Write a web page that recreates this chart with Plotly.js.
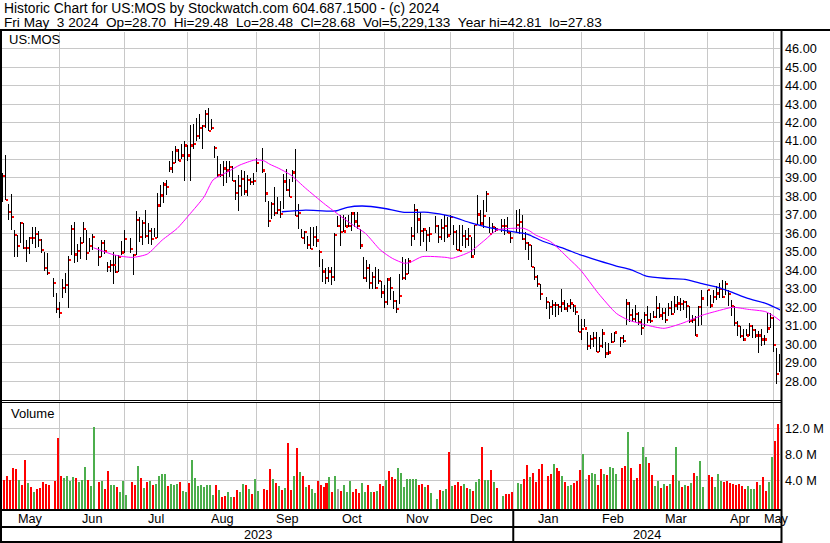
<!DOCTYPE html>
<html>
<head>
<meta charset="utf-8">
<script src="https://cdn.plot.ly/plotly-3.0.1.min.js"></script>
<style>
  html, body { margin:0; padding:0; background:#ffffff; overflow:hidden; }
  #chart { width:830px; height:543px; }
  #chart .barlayer path { shape-rendering: crispEdges; }
</style>
</head>
<body>
<div id="chart"></div>
<script>
// ---------------- data ----------------
const ticker = 'US:MOS';
const firstDay = '2023-05-03';
const lastDay  = '2024-05-03';
const holidays = ['2023-05-29','2023-06-19','2023-07-04','2023-09-04','2023-11-23',
                  '2023-12-25','2024-01-01','2024-01-15','2024-02-19','2024-03-29'];

const high = [
 38.90,39.20,39.25,40.24,37.59,38.13,36.18,35.91,36.63,36.58,35.64,35.82,36.32,36.32,36.13,35.71,35.01,34.95,33.56,32.75,
 32.30,33.51,33.87,34.77,36.45,36.63,35.42,35.82,36.63,36.18,35.73,35.96,35.24,35.64,35.64,34.47,34.56,35.00,34.83,34.83,35.56,
 36.18,35.73,34.91,37.22,36.91,36.73,37.27,36.55,36.31,36.31,38.16,38.64,38.78,38.91,39.91,40.45,40.73,40.55,40.82,41.00,
 40.78,41.85,41.91,42.24,42.45,41.85,42.67,42.81,42.18,40.73,40.18,39.73,39.91,39.91,39.91,39.64,38.91,39.18,39.45,39.36,39.18,39.00,39.27,
 40.10,40.60,39.26,37.77,37.68,38.49,37.95,37.77,39.20,39.47,38.94,39.42,40.55,37.59,36.24,36.15,35.88,36.33,36.33,36.42,
 35.08,34.63,34.12,34.18,34.18,36.00,36.96,37.00,37.00,36.87,37.00,37.18,37.18,37.14,36.24,34.72,34.54,34.36,33.91,34.18,34.09,33.40,
 33.20,33.60,33.65,32.90,32.40,33.80,34.73,34.60,34.66,36.36,37.61,37.34,37.16,36.27,36.18,36.36,36.95,36.45,36.80,37.02,36.89,
 36.98,36.45,36.18,36.48,36.45,36.18,36.27,35.82,36.48,38.05,37.25,37.79,38.32,36.89,36.54,36.36,36.80,36.80,36.89,36.09,
 37.25,37.30,36.97,36.07,35.53,35.35,34.18,33.73,33.28,32.56,32.29,32.38,32.29,32.20,33.00,32.38,32.25,32.47,32.20,32.10,31.57,
 31.39,31.35,30.67,30.49,30.67,30.67,30.40,30.81,30.13,30.04,30.58,30.67,30.40,30.49,32.47,32.29,31.93,32.11,31.75,31.39,
 31.75,32.05,31.70,31.80,32.60,32.23,31.96,31.96,32.23,32.32,32.60,32.60,32.50,32.41,32.32,32.05,31.60,31.51,32.05,32.95,
 32.95,32.68,32.95,33.13,33.31,33.50,33.40,32.95,32.41,32.05,31.24,30.97,30.80,30.80,31.15,31.06,30.80,30.70,30.80,30.52,31.70,31.70,
 31.50,29.80,29.48
];
const low = [
 37.60,37.90,37.68,37.80,36.72,36.18,34.70,34.74,35.49,35.17,34.47,34.88,35.42,35.22,35.24,34.92,33.98,33.74,32.57,31.70,
 31.43,32.48,32.79,31.97,34.83,34.41,34.47,34.61,35.46,34.56,34.99,35.10,34.23,34.70,34.86,33.92,33.92,33.26,33.87,33.92,34.83,
 34.92,34.96,33.73,34.82,35.55,35.36,35.73,35.45,35.36,35.82,35.73,37.45,37.62,38.09,39.33,39.27,39.82,39.91,40.00,38.82,
 39.91,38.85,40.55,41.00,41.09,40.55,41.73,41.55,41.58,40.09,39.04,39.04,38.55,38.70,39.04,38.82,37.82,37.22,38.00,38.09,38.00,38.64,38.64,
 39.31,39.26,37.68,36.33,36.78,36.96,37.05,36.82,37.32,38.31,37.95,38.76,36.96,36.24,35.74,35.43,35.16,35.16,35.34,35.25,
 34.18,33.37,33.28,33.37,33.19,33.40,36.33,35.34,36.06,36.33,36.33,36.15,36.33,36.24,35.16,33.55,33.37,33.01,32.97,33.01,33.28,32.50,
 31.95,32.10,32.40,31.90,31.70,32.20,33.47,33.50,33.80,35.34,35.64,36.00,35.29,35.55,35.05,35.55,36.00,35.46,35.64,35.55,35.77,
 35.91,35.38,35.11,35.02,35.29,35.20,35.29,34.66,34.84,36.45,36.45,36.27,37.16,36.00,36.00,36.09,36.09,35.91,36.00,35.46,
 36.00,35.98,35.62,35.08,34.54,34.18,33.46,33.10,32.38,31.93,31.38,31.57,31.48,31.60,31.75,31.84,31.75,31.90,31.75,31.57,30.67,
 30.22,30.94,29.68,29.76,29.86,29.59,29.59,29.77,29.23,29.41,30.04,30.13,29.86,30.04,31.03,31.21,31.21,31.21,31.03,30.49,
 30.94,31.15,31.15,31.42,31.42,31.42,31.33,31.15,31.51,31.60,31.69,31.87,31.78,31.87,31.42,31.15,31.15,30.47,30.97,31.06,
 32.05,31.96,32.23,32.41,32.50,32.50,32.68,32.05,31.51,30.97,30.43,30.34,30.20,30.43,30.43,30.34,30.34,29.53,29.90,29.98,30.60,30.90,
 29.60,27.83,28.48
];
const close = [
 38.20,38.60,39.12,37.80,37.17,36.90,35.93,35.31,36.58,35.22,35.22,35.76,35.76,35.95,35.66,35.10,34.14,33.87,33.33,31.92,
 31.70,33.06,33.20,34.56,36.23,34.86,35.04,35.49,36.23,34.92,35.32,35.80,34.74,35.47,35.06,34.18,34.27,34.30,33.90,34.74,34.96,
 35.70,35.15,34.82,36.73,35.80,36.58,35.87,36.13,35.69,35.76,37.51,38.05,38.64,38.53,39.51,39.82,40.49,39.95,40.22,40.76,
 40.22,40.76,40.84,41.25,41.69,41.80,42.45,41.53,41.69,40.60,39.18,39.18,39.51,39.40,39.58,38.85,38.18,38.55,38.96,38.27,38.91,38.80,38.85,
 39.83,39.40,38.16,36.66,37.60,37.09,37.28,37.05,38.81,38.34,37.98,39.29,36.96,37.10,35.74,36.06,35.38,35.16,35.79,35.61,
 34.99,33.94,33.59,33.94,33.64,35.92,36.42,36.06,36.10,36.37,36.39,37.07,36.64,36.39,35.34,33.59,34.12,33.32,33.64,33.05,33.41,32.80,
 32.30,33.50,33.05,32.36,31.90,32.60,33.60,33.80,34.48,35.86,37.27,36.75,36.12,36.21,35.91,35.98,36.39,35.82,36.27,36.41,35.88,
 36.88,36.09,35.11,35.05,35.86,35.68,35.86,34.75,36.45,37.02,36.54,36.95,38.13,35.98,36.32,36.21,36.41,36.41,36.05,35.77,
 36.45,36.61,35.71,35.48,35.35,34.18,33.64,33.28,32.70,32.29,32.02,32.11,32.11,32.00,32.20,31.93,32.06,32.20,32.05,31.75,30.67,
 30.81,30.85,29.91,30.27,30.34,29.59,29.91,30.58,29.50,29.55,30.13,30.63,30.34,30.18,32.20,31.57,31.35,31.62,31.21,30.88,
 31.57,31.30,31.24,31.46,31.96,31.55,31.68,31.33,31.95,31.64,32.10,32.20,32.16,32.27,32.05,31.24,31.33,30.47,32.00,32.47,
 32.92,32.10,32.54,32.74,32.99,32.54,33.28,32.70,32.05,31.15,30.97,30.43,30.25,30.47,30.97,30.76,30.47,30.47,30.25,30.25,30.85,31.42,
 29.95,28.40,28.68
];
// volume in millions of shares
const volumeM = [
 3.50,3.38,4.05,4.67,4.05,5.90,5.74,4.05,3.28,7.13,3.59,2.97,2.20,2.67,2.77,3.74,3.44,3.28,3.90,10.56,
 4.67,4.36,4.67,3.90,4.51,4.36,3.74,4.05,6.05,4.05,3.13,12.20,3.74,3.90,2.67,5.44,3.28,3.28,2.97,2.20,3.90,
 1.74,3.74,3.28,6.20,4.36,2.82,3.74,3.90,3.28,3.44,4.67,4.97,4.97,3.13,3.44,3.28,3.44,3.74,2.36,2.20,
 3.59,7.13,4.36,3.13,3.28,2.97,3.28,3.28,1.74,3.28,2.51,1.44,1.59,2.20,1.44,1.44,2.51,2.20,3.44,3.28,2.67,1.90,4.20,
 2.36,2.67,2.51,5.74,4.20,3.59,3.13,2.51,2.82,9.74,2.51,4.67,8.97,5.28,4.67,2.97,3.28,2.67,2.05,3.90,
 3.28,2.97,3.59,4.51,2.20,4.67,2.67,2.36,3.28,2.20,3.90,2.20,2.67,2.05,3.59,2.20,3.28,2.20,2.20,2.36,3.44,3.13,
 4.05,5.44,4.51,4.20,5.90,5.13,2.97,4.20,4.20,4.20,4.20,3.28,3.44,2.97,3.28,2.05,1.13,2.51,2.36,2.67,8.36,
 3.13,3.28,3.74,3.13,3.44,2.82,2.67,2.36,3.74,4.20,9.13,4.00,4.00,5.59,3.74,2.82,1.59,1.90,1.90,2.20,
 3.59,3.44,4.20,6.36,4.51,5.13,3.74,5.74,6.51,4.67,4.97,6.51,5.90,5.44,4.67,3.74,3.13,3.28,3.59,3.90,5.59,
 8.05,4.20,4.82,5.13,4.97,3.28,5.74,4.97,4.82,6.05,5.90,4.97,5.90,6.20,11.44,5.90,4.05,4.36,6.51,9.13,
 7.59,6.67,4.82,3.13,3.90,2.82,3.44,3.13,3.44,4.82,9.13,3.90,2.97,3.28,3.13,3.59,5.13,4.67,6.97,2.97,
 4.82,4.51,2.97,4.97,3.90,3.74,3.90,3.59,3.44,3.28,3.44,3.13,2.67,3.13,2.67,2.67,3.74,3.28,4.51,2.36,3.74,7.59,
 10.05,12.67,5.23
];
// volume bar colour code read per day: u = up (green), d = down (red), n = unchanged (grey)
const volumeDir = [
 'dnddd ddudd ududd ddddd',
 'duuuu duuud uudud duudu u',
 'uddud ududu uuudu uuduu',
 'duuuu uuuud udduu dduud udu',
 'udddu dudud dudud uduud',
 'dddud unduu udddu ududu dd',
 'udddu uuuuu uddud uuduu d',
 'udddu duduu duudu duddd',
 'uuddu ddddd duddu duudd d',
 'unduu ddudu uuddu duddu',
 'udduu dudud uudud uduuu',
 'dduuu ddddd ddduu ududd uu',
 'ddu'
].join('').replace(/\s/g,'');

// moving averages (magenta = short, blue = long)
const maShortDates = ['2023-06-16','2023-06-27','2023-07-05','2023-07-12','2023-07-19','2023-07-26','2023-08-01','2023-08-08',
 '2023-08-11','2023-08-18','2023-08-24','2023-08-31','2023-09-05','2023-09-07','2023-09-12','2023-09-18','2023-09-25',
 '2023-10-03','2023-10-06','2023-10-16','2023-10-23','2023-10-30','2023-11-03','2023-11-09','2023-11-13','2023-11-17',
 '2023-11-29','2023-12-01','2023-12-11','2023-12-18','2023-12-22','2023-12-29','2024-01-04','2024-01-08','2024-01-10',
 '2024-01-17','2024-01-25','2024-01-31','2024-02-08','2024-02-16','2024-02-22','2024-03-01','2024-03-11','2024-03-19',
 '2024-03-28','2024-04-05','2024-04-11','2024-04-18','2024-04-26','2024-05-01','2024-05-03'];
const maShortVals = [35.22,34.83,34.70,34.88,35.64,36.27,37.00,37.98,
 38.89,39.34,39.70,39.97,39.93,39.74,39.52,39.16,38.44,
 37.63,37.26,36.54,36.00,35.10,34.65,34.38,34.43,34.74,
 34.70,34.65,35.00,35.64,36.18,36.27,36.27,36.13,35.91,
 35.55,34.65,34.02,32.75,31.67,31.31,31.04,30.86,31.13,
 31.58,31.85,32.00,31.89,31.76,31.49,31.25];
const maLongDates = ['2023-09-13','2023-09-25','2023-10-09','2023-10-13','2023-10-20','2023-10-31','2023-11-09','2023-11-21',
 '2023-12-01','2023-12-11','2023-12-19','2023-12-26','2024-01-04','2024-01-08','2024-01-12','2024-01-24','2024-01-31',
 '2024-02-08','2024-02-16','2024-02-23','2024-03-01','2024-03-11','2024-03-20','2024-03-27','2024-04-04','2024-04-11',
 '2024-04-18','2024-04-26','2024-05-03'];
const maLongVals = [37.17,37.26,37.21,37.41,37.48,37.36,37.14,37.14,
 36.90,36.58,36.33,36.18,36.00,35.91,35.60,35.15,34.83,
 34.52,34.23,34.02,33.69,33.57,33.51,33.30,33.08,32.79,
 32.48,32.21,31.85];

const priceTicks = [28,29,30,31,32,33,34,35,36,37,38,39,40,41,42,43,44,45,46];
const volumeTicks = [4,8,12];
const monthNames = ['Jan','Feb','Mar','Apr','May','Jun','Jul','Aug','Sep','Oct','Nov','Dec'];
const headerLine1 = 'Historic Chart for US:MOS by Stockwatch.com 604.687.1500 - (c) 2024';
const headerLine2 = 'Fri May  3 2024  Op=28.70  Hi=29.48  Lo=28.48  Cl=28.68  Vol=5,229,133  Year hi=42.81  lo=27.83';

// ---------------- helpers ----------------
const DAY = 86400000;
const FONT = '"Liberation Sans", Arial, Helvetica, sans-serif';
const W = 830, H = 543, ML = 2, MR = 50, MT = 32, MB = 34;
const PW = W - ML - MR, PH = H - MT - MB;
const px = v => (v - ML) / PW;
const py = v => (H - MB - v) / PH;
const nb = s => s.replace(/ /g, '\u00a0');
const utc = s => { const [y,m,d] = s.split('-').map(Number); return Date.UTC(y, m-1, d); };
const p2 = n => String(n).padStart(2,'0');
const fmt = t => { const d = new Date(t); return d.getUTCFullYear()+'-'+p2(d.getUTCMonth()+1)+'-'+p2(d.getUTCDate())+' '+p2(d.getUTCHours())+':'+p2(d.getUTCMinutes())+':'+p2(d.getUTCSeconds()); };
const isWd = t => { const w = new Date(t).getUTCDay(); return w > 0 && w < 6; };

function tradingDays() {
  const out = []; const end = utc(lastDay);
  for (let t = utc(firstDay); t <= end; t += DAY) {
    const s = fmt(t).slice(0,10);
    if (isWd(t) && holidays.indexOf(s) < 0) out.push(s);
  }
  return out;
}
const BASE = Date.UTC(2023,3,1);
function biz(t) { let b = 0, d = BASE; while (d + DAY <= t) { if (isWd(d)) b++; d += DAY; } if (isWd(d)) b += (t - d) / DAY; return b; }
function unbiz(b) { let d = BASE; for (;;) { if (isWd(d)) { if (b < 1) return d + b * DAY; b -= 1; } d += DAY; } }

const days = tradingDays();
const xs = days.map(d => d + ' 12:00:00');
const xStart = utc('2023-05-04') + 0.84 * DAY;
const xEnd = utc('2024-05-03') + 0.30 * DAY;

// month grid (first weekday of each month) and centred month / year labels
const gridDates = [], monthLabels = [];
for (let y = 2023, m = 4; y < 2024 || m <= 4; ) {
  const ms = Date.UTC(y, m, 1); const me = Date.UTC(m === 11 ? y+1 : y, (m+1) % 12, 1);
  let g = ms; while (!isWd(g)) g += DAY;
  if (g > xStart && g < xEnd) gridDates.push(fmt(g));
  const a = Math.max(ms, xStart), b = Math.min(me, xEnd);
  if (b > a) monthLabels.push({ x: fmt(unbiz((biz(a) + biz(b)) / 2)), text: monthNames[m] });
  m++; if (m > 11) { m = 0; y++; }
}
const yearLabels = [
  { x: fmt(unbiz((biz(xStart) + biz(Date.UTC(2024,0,1))) / 2)), text: '2023' },
  { x: fmt(unbiz((biz(Date.UTC(2024,0,1)) + biz(xEnd)) / 2)), text: '2024' }
];

const VFLOOR = -0.415;
const dirColor = { u: '#4cae4c', d: '#ff0000', n: '#a3a3a3' };

// ---------------- traces ----------------
const traces = [
  { type:'bar', x: xs, base: low, y: high.map((h,i) => h - low[i]),
    width: 0.335*DAY, offset: -0.667*DAY, marker:{ color:'#000000', line:{width:0} },
    xaxis:'x', yaxis:'y', hoverinfo:'skip', showlegend:false },
  { type:'bar', x: xs, base: close.map(c => c - 0.06), y: close.map(() => 0.12),
    width: 0.67*DAY, offset: -0.333*DAY, marker:{ color:'#ff0000', line:{width:0} },
    xaxis:'x', yaxis:'y', hoverinfo:'skip', showlegend:false },
  { type:'scatter', mode:'lines', x: maLongDates.map(d => d + ' 12:00:00'), y: maLongVals,
    line:{ color:'#0000ff', width:1.3, shape:'spline', smoothing:0.6 }, xaxis:'x', yaxis:'y', hoverinfo:'skip', showlegend:false },
  { type:'scatter', mode:'lines', x: maShortDates.map(d => d + ' 12:00:00'), y: maShortVals,
    line:{ color:'#ff00ff', width:1, shape:'spline', smoothing:0.6 }, xaxis:'x', yaxis:'y', hoverinfo:'skip', showlegend:false },
  { type:'bar', x: xs, base: VFLOOR, y: volumeM.map(v => v - VFLOOR),
    width: 0.67*DAY, offset: -0.36*DAY,
    marker:{ color: volumeM.map((v,i) => dirColor[volumeDir[i]] || '#a3a3a3'), line:{width:0} },
    xaxis:'x', yaxis:'y2', hoverinfo:'skip', showlegend:false }
];

// ---------------- layout ----------------
const ln = (x0,y0,x1,y1,w) => ({ type:'line', xref:'paper', yref:'paper', x0:px(x0), y0:py(y0), x1:px(x1), y1:py(y1),
  line:{ color:'#000000', width:w }, layer:'above' });
const tickFont = { family: FONT, size: 12.7, color:'#000000' };
const ann = (x, y, text, opts) => Object.assign({ x, y, text: nb(text), showarrow:false, xref:'paper', yref:'paper',
  xanchor:'left', yanchor:'middle', font:{ family: FONT, size: 13, color:'#000000' }, borderpad:0 }, opts || {});

const annotations = [
  ann(px(3), py(8.5), headerLine1, { font:{ family: FONT, size: 13.8, color:'#000' } }),
  ann(px(3), py(22.5), headerLine2, { font:{ family: FONT, size: 13.6, color:'#000' } }),
  ann(px(8), py(39), ticker),
  ann(px(10), py(413.5), 'Volume')
];
monthLabels.forEach(o => annotations.push(ann(o.x, py(518.5), o.text, { xref:'x', xanchor:'center', font: tickFont })));
yearLabels.forEach(o => annotations.push(ann(o.x, py(535), o.text, { xref:'x', xanchor:'center', font: tickFont })));

const layout = {
  width: W, height: H, margin:{ l: ML, r: MR, t: MT, b: MB, pad: 0 },
  paper_bgcolor:'#ffffff', plot_bgcolor:'#ffffff', barmode:'overlay', showlegend:false,
  xaxis: { type:'date', range:[fmt(xStart), fmt(xEnd)], rangebreaks:[{ bounds:['sat','mon'] }],
    tickmode:'array', tickvals: gridDates, showticklabels:false, ticks:'', showgrid:true,
    gridcolor:'#c8c8c8', gridwidth:1, zeroline:false, showline:false, anchor:'y2', fixedrange:true },
  yaxis: { domain:[py(400), 1], range:[26.98, 46.90], side:'right', tickmode:'array', tickvals: priceTicks,
    ticktext: priceTicks.map(v => v.toFixed(2)), showgrid:true, gridcolor:'#c8c8c8', gridwidth:1,
    zeroline:false, showline:false, ticks:'', tickfont: tickFont, ticklabelstandoff: 4, fixedrange:true },
  yaxis2: { domain:[0, py(402)], range:[VFLOOR, 16.05], side:'right', tickmode:'array', tickvals: volumeTicks,
    ticktext: volumeTicks.map(v => v.toFixed(1) + ' M'), showgrid:true, gridcolor:'#c8c8c8', gridwidth:1,
    zeroline:false, showline:false, ticks:'', tickfont: tickFont, ticklabelstandoff: 4, fixedrange:true },
  shapes: [
    ln(0, 30, 830, 30, 2),
    ln(1, 30, 1, 543, 2),
    ln(781.5, 30, 781.5, 543, 2),
    ln(0, 400.5, 781, 400.5, 1),
    ln(0, 402.5, 781, 402.5, 1),
    ln(0, 510, 781, 510, 2),
    ln(0, 527, 781, 527, 2),
    ln(0, 542, 781, 542, 2),
    { type:'line', xref:'x', yref:'paper', x0:'2024-01-01', x1:'2024-01-01', y0: py(510), y1: py(543),
      line:{ color:'#000000', width:2 }, layer:'above' }
  ],
  annotations
};

Plotly.newPlot('chart', traces, layout, { staticPlot:true, displayModeBar:false });
</script>
</body>
</html>
